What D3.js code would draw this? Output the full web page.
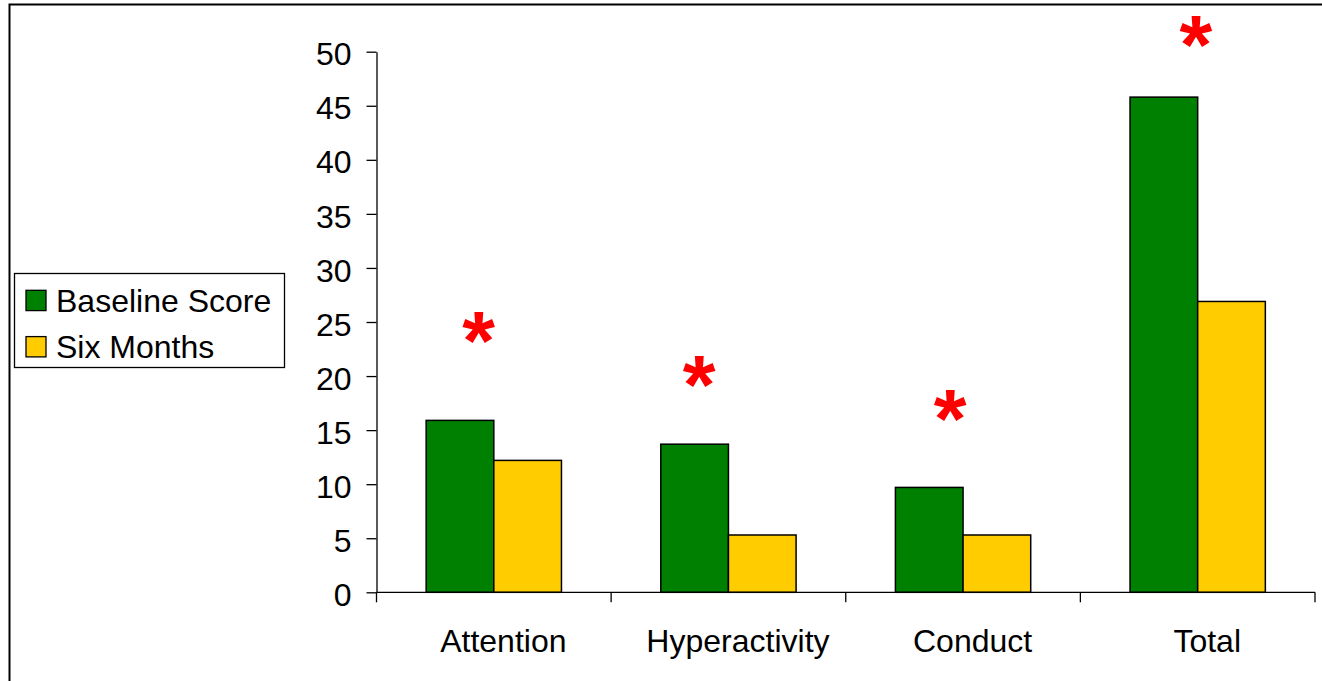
<!DOCTYPE html>
<html>
<head>
<meta charset="utf-8">
<script src="https://cdn.jsdelivr.net/npm/d3@7"></script>
<style>
  html, body { margin: 0; padding: 0; background: #fff; }
  svg { display: block; }
  text { font-family: "Liberation Sans", Arial, sans-serif; fill: #000; }
</style>
</head>
<body>
<svg id="chart" width="1322" height="681"></svg>
<script>
// Rating-scale subscores at baseline and after six months
const categories = ["Attention", "Hyperactivity", "Conduct", "Total"];
const seriesNames = ["Baseline Score", "Six Months"];
const baselineScores = [15.9, 13.7, 9.7, 45.8];
const sixMonthScores = [12.2, 5.3, 5.3, 26.9];
const yTicks = [0, 5, 10, 15, 20, 25, 30, 35, 40, 45, 50];
// Significance markers: score level and position across each category slot
const starLevels = [24.4, 20.4, 17.2, 51.8];
const starOffsets = [0.436, 0.376, 0.445, 0.493];

const colors = ["#008000", "#FFCC00"];

const svg = d3.select("#chart");

// Outer chart frame (right and bottom edges fall outside the page)
svg.append("rect")
  .attr("x", 9.5).attr("y", 4.5)
  .attr("width", 1400).attr("height", 800)
  .attr("fill", "none").attr("stroke", "#000").attr("stroke-width", 2);

const plot = { left: 376.5, right: 1315, top: 51.7, bottom: 592.3 };

const x0 = d3.scaleBand().domain(categories).range([plot.left, plot.right]).padding(0);
const pairWidth = 135.3;
const pairOffset = (x0.bandwidth() - pairWidth) / 2;
const x1 = d3.scaleBand().domain(seriesNames).range([0, pairWidth]).padding(0);
const y = d3.scaleLinear().domain([0, 50]).range([plot.bottom, plot.top]);

const rows = categories.map((c, i) => ({
  category: c,
  values: [baselineScores[i], sixMonthScores[i]]
}));

// Bars
const groups = svg.append("g").selectAll("g")
  .data(rows).join("g")
  .attr("transform", d => `translate(${x0(d.category) + pairOffset},0)`);

groups.selectAll("rect")
  .data(d => d.values.map((v, j) => ({ series: seriesNames[j], value: v, j })))
  .join("rect")
  .attr("x", d => x1(d.series))
  .attr("y", d => y(d.value))
  .attr("width", x1.bandwidth())
  .attr("height", d => y(0) - y(d.value))
  .attr("fill", d => colors[d.j])
  .attr("stroke", "#000")
  .attr("stroke-width", 1.5);

// Y axis
const yAxis = svg.append("g")
  .attr("transform", `translate(${plot.left},0)`)
  .call(d3.axisLeft(y).tickValues(yTicks).tickSize(10).tickPadding(15).tickSizeOuter(0));
yAxis.select(".domain").attr("stroke", "#000").attr("stroke-width", 1.3);
yAxis.selectAll(".tick line").attr("stroke", "#000").attr("stroke-width", 1.3);
yAxis.selectAll(".tick text")
  .attr("font-size", 32)
  .attr("font-family", "Liberation Sans, Arial, sans-serif")
  .attr("dy", "0.41em");

// X axis: baseline with tick marks at category boundaries
const xAxisG = svg.append("g");
xAxisG.append("line")
  .attr("x1", plot.left).attr("x2", plot.right)
  .attr("y1", y(0)).attr("y2", y(0))
  .attr("stroke", "#000").attr("stroke-width", 1.3);
const boundaries = categories.map(c => x0(c)).concat([x0(categories[categories.length - 1]) + x0.bandwidth()]);
xAxisG.selectAll("line.tick")
  .data(boundaries).join("line")
  .attr("class", "tick")
  .attr("x1", d => d).attr("x2", d => d)
  .attr("y1", y(0)).attr("y2", y(0) + 10)
  .attr("stroke", "#000").attr("stroke-width", 1.3);
xAxisG.selectAll("text")
  .data(categories).join("text")
  .attr("x", d => x0(d) + x0.bandwidth() / 2 + 9.5)
  .attr("y", 652)
  .attr("text-anchor", "middle")
  .attr("font-size", 32)
  .text(d => d);

// Significance asterisks: size the glyph to ~32px tall and centre it on its anchor
const starFont = '"Liberation Sans", Arial, sans-serif';
const ctx = document.createElement("canvas").getContext("2d");
ctx.font = `bold 100px ${starFont}`;
const m0 = ctx.measureText("*");
const h0 = m0.actualBoundingBoxAscent + m0.actualBoundingBoxDescent;
const starSize = h0 > 0 ? 100 * 32 / h0 : 100;
ctx.font = `bold ${starSize}px ${starFont}`;
const m = ctx.measureText("*");
const centreShift = (m.actualBoundingBoxDescent - m.actualBoundingBoxAscent) / 2;
const hShift = (m.actualBoundingBoxRight - m.actualBoundingBoxLeft) / 2;

svg.append("g").selectAll("text")
  .data(categories.map((c, i) => ({ c, level: starLevels[i], off: starOffsets[i] })))
  .join("text")
  .attr("font-size", starSize)
  .attr("font-weight", "bold")
  .style("fill", "#FF0000")
  .attr("text-anchor", "start")
  .attr("x", d => x0(d.c) + d.off * x0.bandwidth() + m.actualBoundingBoxLeft - hShift)
  .attr("y", d => y(d.level) - centreShift)
  .text("*");

// Legend
const legend = svg.append("g");
legend.append("rect")
  .attr("x", 14.5).attr("y", 273.5)
  .attr("width", 270).attr("height", 94)
  .attr("fill", "#fff").attr("stroke", "#000").attr("stroke-width", 1.3);
const legendRows = legend.selectAll("g.item")
  .data(seriesNames).join("g")
  .attr("class", "item")
  .attr("transform", (d, i) => `translate(0,${i * 46.3})`);
legendRows.append("rect")
  .attr("x", 26).attr("y", 290.3)
  .attr("width", 20).attr("height", 20.3)
  .attr("fill", (d, i) => colors[i])
  .attr("stroke", "#000").attr("stroke-width", 1.3);
legendRows.append("text")
  .attr("x", 56).attr("y", 311.5)
  .attr("font-size", 32)
  .text(d => d);
</script>
</body>
</html>
